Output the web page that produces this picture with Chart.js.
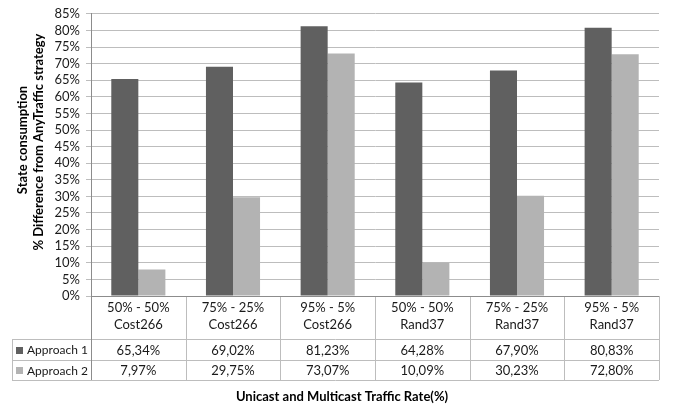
<!DOCTYPE html>
<html>
<head>
<meta charset="utf-8">
<script src="https://cdn.jsdelivr.net/npm/chart.js@4.4.1/dist/chart.umd.min.js"></script>
<style>
  html, body { margin: 0; padding: 0; background: #ffffff; }
  #wrap { width: 677px; height: 409px; }
</style>
</head>
<body>
<div id="wrap"><canvas id="c" width="677" height="409"></canvas></div>
<script>
// Traffic mix and topology for each group of bars
const rates = ['50% - 50%', '75% - 25%', '95% - 5%', '50% - 50%', '75% - 25%', '95% - 5%'];
const networks = ['Cost266', 'Cost266', 'Cost266', 'Rand37', 'Rand37', 'Rand37'];

// State consumption, % difference from the AnyTraffic strategy
const approach1 = [65.34, 69.02, 81.23, 64.28, 67.90, 80.83];
const approach2 = [7.97, 29.75, 73.07, 10.09, 30.23, 72.80];

const seriesNames = ['Approach 1', 'Approach 2'];
const seriesColors = ['#606060', '#b3b3b3'];

const yTitle = ['State consumption', '% Difference from AnyTraffic strategy'];
const xTitle = 'Unicast and Multicast Traffic Rate(%)';

const FONT = 'Lato, "Open Sans", sans-serif';
const lineColor = '#bdbdbd';
const textColor = '#1a1a1a';

function pct(v) {
  return v.toFixed(2).replace('.', ',') + '%';
}

// Draws the data table under the plot plus the axis titles
const dataTable = {
  id: 'dataTable',
  afterDraw(chart) {
    const ctx = chart.ctx;
    const x = chart.scales.x;
    const area = chart.chartArea;
    const n = rates.length;
    const w = (area.right - area.left) / n;
    const top = area.bottom;
    const headBottom = top + 43;
    const row1Bottom = headBottom + 21;
    const row2Bottom = row1Bottom + 20;
    const legendLeft = 12;

    ctx.save();
    ctx.lineWidth = 1;
    ctx.strokeStyle = lineColor;

    const hline = (y, x0, x1) => {
      ctx.beginPath();
      ctx.moveTo(x0, Math.round(y) + 0.5);
      ctx.lineTo(x1, Math.round(y) + 0.5);
      ctx.stroke();
    };
    hline(headBottom, legendLeft, area.right);
    hline(row1Bottom, legendLeft, area.right);
    hline(row2Bottom, legendLeft, area.right);

    // vertical rules at category boundaries
    for (let i = 1; i <= n; i++) {
      const px = Math.round(area.left + i * w) + 0.5;
      ctx.beginPath();
      ctx.moveTo(px, top);
      ctx.lineTo(px, row2Bottom);
      ctx.stroke();
    }
    ctx.beginPath();
    ctx.moveTo(legendLeft + 0.5, headBottom);
    ctx.lineTo(legendLeft + 0.5, row2Bottom);
    ctx.stroke();

    // axis line and its extension through the table
    ctx.strokeStyle = '#8c8c8c';
    ctx.beginPath();
    ctx.moveTo(Math.round(area.left) + 0.5, top);
    ctx.lineTo(Math.round(area.left) + 0.5, row2Bottom);
    ctx.stroke();
    hline(top, area.left, area.right);

    // header labels
    ctx.fillStyle = textColor;
    ctx.font = '13px ' + FONT;
    ctx.textAlign = 'center';
    ctx.textBaseline = 'middle';
    for (let i = 0; i < n; i++) {
      const cx = x.getPixelForValue(i);
      ctx.fillText(rates[i], cx, top + 12);
      ctx.fillText(networks[i], cx, top + 29);
    }

    // value rows
    const rows = [approach1, approach2];
    const rowMid = [(headBottom + row1Bottom) / 2, (row1Bottom + row2Bottom) / 2];
    rows.forEach((vals, r) => {
      ctx.font = '13px ' + FONT;
      ctx.textAlign = 'center';
      for (let i = 0; i < n; i++) {
        ctx.fillText(pct(vals[i]), x.getPixelForValue(i), rowMid[r] + 1);
      }
      // legend key
      ctx.fillStyle = seriesColors[r];
      ctx.fillRect(16, Math.round(rowMid[r]) - 3, 7, 7);
      ctx.fillStyle = textColor;
      ctx.font = '12px ' + FONT;
      ctx.textAlign = 'left';
      ctx.fillText(seriesNames[r], 27, rowMid[r] + 1);
    });

    // axis titles
    ctx.font = 'bold 13px ' + FONT;
    ctx.textAlign = 'center';
    ctx.fillStyle = '#000000';
    ctx.fillText(xTitle, 342, 397);

    ctx.save();
    ctx.translate(23, 140);
    ctx.rotate(-Math.PI / 2);
    ctx.fillText(yTitle[0], 0, 0);
    ctx.restore();
    ctx.save();
    ctx.translate(39, 142);
    ctx.rotate(-Math.PI / 2);
    ctx.fillText(yTitle[1], 0, 0);
    ctx.restore();

    ctx.restore();
  }
};

new Chart(document.getElementById('c'), {
  type: 'bar',
  data: {
    labels: rates.map((r, i) => r + ' ' + networks[i]),
    datasets: [
      { label: seriesNames[0], data: approach1, backgroundColor: seriesColors[0] },
      { label: seriesNames[1], data: approach2, backgroundColor: seriesColors[1] }
    ]
  },
  options: {
    responsive: false,
    animation: false,
    layout: { padding: { top: 11, right: 18, bottom: 113, left: 0 } },
    datasets: {
      bar: { categoryPercentage: 2 / 3.5, barPercentage: 1.0, borderWidth: 0 }
    },
    plugins: {
      legend: { display: false },
      tooltip: { enabled: false }
    },
    scales: {
      x: { display: false },
      y: {
        min: 0,
        max: 85,
        afterFit(scale) { scale.width = 91; },
        ticks: {
          stepSize: 5,
          autoSkip: false,
          padding: 6,
          color: textColor,
          font: { family: FONT, size: 13 },
          callback: v => v + '%'
        },
        grid: { color: lineColor, lineWidth: 1, tickLength: 5 },
        border: { display: true, color: '#8c8c8c' }
      }
    }
  },
  plugins: [dataTable]
});
</script>
</body>
</html>
